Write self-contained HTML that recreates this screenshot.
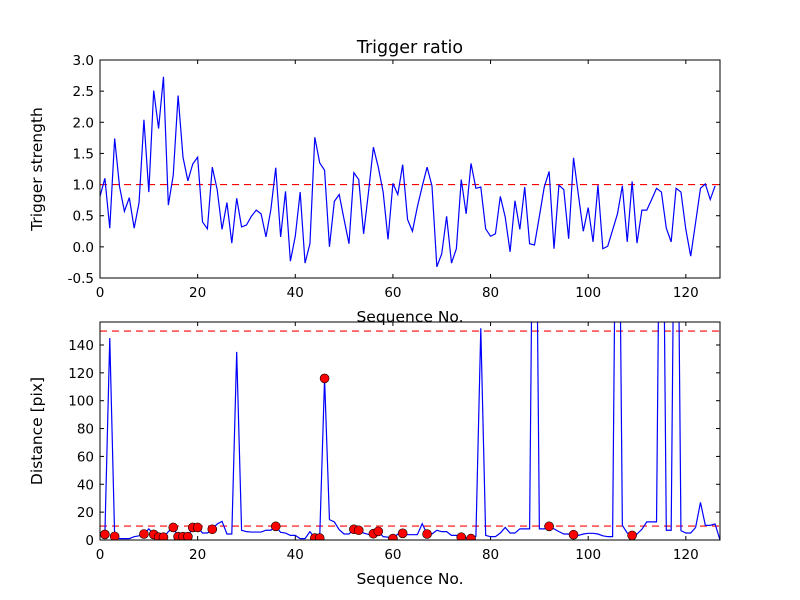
<!DOCTYPE html>
<html><head><meta charset="utf-8"><style>
body{margin:0;background:#fff}
svg{display:block}
text{font-family:"DejaVu Sans","Liberation Sans",sans-serif;fill:#000}
</style></head><body>
<svg id="fig" width="800" height="600" viewBox="0 0 800 600"></svg>
<script>
const strength=[0.81,1.10,0.30,1.74,0.97,0.57,0.79,0.30,0.71,2.04,0.88,2.51,1.90,2.73,0.67,1.15,2.43,1.44,1.06,1.33,1.44,0.40,0.29,1.28,0.92,0.28,0.71,0.06,0.78,0.32,0.35,0.49,0.59,0.53,0.16,0.60,1.27,0.16,0.89,-0.23,0.17,0.88,-0.26,0.05,1.76,1.35,1.23,0.00,0.73,0.84,0.44,0.05,1.19,1.08,0.21,0.88,1.60,1.28,0.88,0.12,1.02,0.84,1.32,0.44,0.25,0.64,0.97,1.28,0.98,-0.32,-0.11,0.49,-0.26,-0.03,1.08,0.53,1.34,0.94,0.96,0.29,0.17,0.21,0.81,0.48,-0.08,0.74,0.28,0.96,0.05,0.03,0.49,0.96,1.21,-0.03,0.99,0.92,0.13,1.43,0.83,0.25,0.63,0.08,0.99,-0.03,0.01,0.27,0.53,0.98,0.08,1.05,0.06,0.59,0.59,0.76,0.94,0.88,0.30,0.08,0.94,0.88,0.28,-0.15,0.39,0.94,1.01,0.76,0.98];
const distance=[4,4,145,2.6,1,1,1,2.4,3,4.3,8,4,2,2,6,9,2.4,2.4,2.4,9,9,5,5,7.7,11.5,13.4,4.3,4.3,135,7,6,5.7,5.7,5.7,7,7,9.8,5.5,5,3.3,3.3,1,1,6,1.4,1.4,116,14.6,13,7.4,4.3,4.3,7.7,7,5,4,4.5,6.2,2.4,2,1,4.3,4.8,3.8,3.8,3.8,11.7,4.3,4.3,7,6,6,3.3,3.3,2,1.5,1,2.7,152,3.3,2.4,2.4,5,9,5,5,8,8,8,400,8,8,9.8,8,6,4.3,4.3,3.8,3.3,4.3,4.8,4.8,4.3,3,2.4,2.4,400,10.5,5,3.3,4.3,7.7,13,13,13,400,7,7,400,6.7,5,5,9,27,10.5,10.5,11.5,0];
const detIdx=[1,3,9,11,12,13,15,16,17,18,19,20,23,36,44,45,46,52,53,56,57,60,62,67,74,76,92,97,109];
const detVal=[4,2.6,4.3,4,2,2,9,2.4,2.4,2.4,9,9,7.7,9.8,1.4,1.4,116,7.7,7,4.5,6.2,1,4.8,4.3,2,1,9.8,3.8,3.3];
const topYTicks=[-0.5,0,0.5,1,1.5,2,2.5,3];
const botYTicks=[0,20,40,60,80,100,120,140];
const xTicks=[0,20,40,60,80,100,120];
const NS="http://www.w3.org/2000/svg";
const svg=document.getElementById('fig');
function mk(tag,attrs,parent){const e=document.createElementNS(NS,tag);for(const k in attrs)e.setAttribute(k,attrs[k]);(parent||svg).appendChild(e);return e;}
const L=100,R=720;
function sx(v){return L+(v-0)/(127-0)*(R-L);}
function axes(top,bot,ymin,ymax,name,yticks,yfmt,ylabel){
  const sy=v=>bot-(v-ymin)/(ymax-ymin)*(bot-top);
  const g=mk('g',{});
  
  
  const cp=mk('clipPath',{id:name+'-clip'},g);
  mk('rect',{x:L,y:top,width:R-L,height:bot-top},cp);
  xTicks.forEach(t=>{const x=sx(t);
    mk('line',{x1:x,x2:x,y1:bot,y2:bot-4,stroke:'#000'},g);
    mk('line',{x1:x,x2:x,y1:top,y2:top+4,stroke:'#000'},g);
    const tx=mk('text',{x:x,y:bot+19,'text-anchor':'middle','font-size':'13.5'},g);tx.textContent=t;
    
    
  });
  yticks.forEach(t=>{const y=sy(t);
    mk('line',{x1:L,x2:L+4,y1:y,y2:y,stroke:'#000'},g);
    mk('line',{x1:R,x2:R-4,y1:y,y2:y,stroke:'#000'},g);
    const tx=mk('text',{x:L-6,y:y+5,'text-anchor':'end','font-size':'13.5'},g);tx.textContent=yfmt(t);
    
    
  });
  const xl=mk('text',{x:(L+R)/2,y:bot+44,'text-anchor':'middle','font-size':'15.5'},g);xl.textContent='Sequence No.';
  
  
  const cy=(top+bot)/2;
  const yl=mk('text',{x:0,y:0,'text-anchor':'middle','font-size':'15.5',transform:`translate(${L-58},${cy}) rotate(-90)`},g);yl.textContent=ylabel;
  
  
  return {g,sy,clip:`url(#${name}-clip)`,top,bot};
}
const A=axes(60,278,-0.5,3.0,'strength-axes',topYTicks,v=>v.toFixed(1),'Trigger strength');
const t=mk('text',{x:410,y:53,'text-anchor':'middle','font-size':'17.5'});t.textContent='Trigger ratio';


const thr1=mk('line',{x1:L,x2:R,y1:A.sy(1),y2:A.sy(1),stroke:'#f00','stroke-width':1.2,'stroke-dasharray':'7 5'},A.g);


const p1=mk('polyline',{points:strength.map((v,i)=>sx(i)+','+A.sy(v)).join(' '),fill:'none',stroke:'#00f','stroke-width':1.2,'clip-path':A.clip},A.g);


mk('rect',{x:L,y:60,width:R-L,height:218,fill:'none',stroke:'#000','stroke-width':1},A.g);
const B=axes(322,540,0,156.5,'distance-axes',botYTicks,v=>String(v),'Distance [pix]');
[10,150].forEach(v=>{const l=mk('line',{x1:L,x2:R,y1:B.sy(v),y2:B.sy(v),stroke:'#f00','stroke-width':1.2,'stroke-dasharray':'7 5'},B.g);
  
  });
const p2=mk('polyline',{points:distance.map((v,i)=>sx(i)+','+B.sy(v)).join(' '),fill:'none',stroke:'#00f','stroke-width':1.2,'clip-path':B.clip},B.g);


detIdx.forEach((ix,k)=>{const c=mk('circle',{cx:sx(ix),cy:B.sy(detVal[k]),r:4.5,fill:'#f00',stroke:'#000','stroke-width':0.6,'clip-path':B.clip},B.g);
  
  });
mk('rect',{x:L,y:322,width:R-L,height:218,fill:'none',stroke:'#000','stroke-width':1},B.g);
</script>
</body></html>
